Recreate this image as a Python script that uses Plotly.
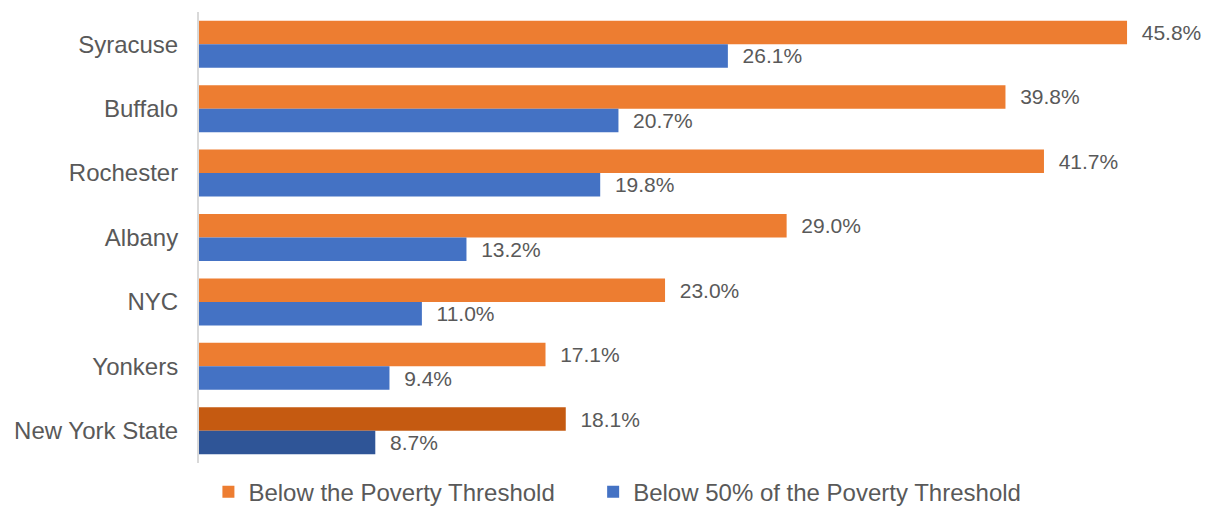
import plotly.graph_objects as go

categories = ["Syracuse", "Buffalo", "Rochester", "Albany", "NYC", "Yonkers", "New York State"]
below_threshold = [45.8, 39.8, 41.7, 29.0, 23.0, 17.1, 18.1]
below_50pct = [26.1, 20.7, 19.8, 13.2, 11.0, 9.4, 8.7]
series_names = ["Below the Poverty Threshold", "Below 50% of the Poverty Threshold"]

orange, orange_dark = "#ED7D31", "#C55A11"
blue, blue_dark = "#4472C4", "#2F5597"
orange_colors = [orange_dark if c == "New York State" else orange for c in categories]
blue_colors = [blue_dark if c == "New York State" else blue for c in categories]

FONT = "Liberation Sans, Arial, sans-serif"
pad = "\u00a0\u00a0"
fig = go.Figure()
fig.add_trace(go.Bar(
    y=categories, x=below_threshold, orientation="h",
    name=series_names[0] + "\u00a0" * 5,
    marker=dict(color=orange_colors, line=dict(width=0)),
    texttemplate=pad + "%{x:.1f}%", textposition="outside", cliponaxis=False,
    textfont=dict(size=21, color="#595959", family=FONT),
))
fig.add_trace(go.Bar(
    y=categories, x=below_50pct, orientation="h", name=series_names[1],
    marker=dict(color=blue_colors, line=dict(width=0)),
    texttemplate=pad + "%{x:.1f}%", textposition="outside", cliponaxis=False,
    textfont=dict(size=21, color="#595959", family=FONT),
))

# page body has an 8px margin, so the figure is sized to fit the 1210x506 window
fig.update_layout(
    width=1202, height=498,
    margin=dict(l=191, r=10, t=4, b=43, autoexpand=False),
    barmode="group", bargap=0.27, bargroupgap=0,
    plot_bgcolor="white", paper_bgcolor="white",
    font=dict(family=FONT, color="#595959"),
    showlegend=True,
    legend=dict(orientation="h", xref="container", yref="container",
                x=0.507, xanchor="center", y=0.028, yanchor="middle",
                font=dict(size=24, color="#595959"), itemsizing="constant",
                traceorder="normal", itemwidth=30),
    uniformtext=dict(minsize=21, mode="show"),
)
fig.update_xaxes(range=[0, 49.4], showgrid=False, showticklabels=False, zeroline=False,
                 showline=False, fixedrange=True, automargin=False)
fig.update_yaxes(autorange="reversed", showline=True, linecolor="#D9D9D9", linewidth=2,
                 showgrid=False, ticks="", tickfont=dict(size=24, color="#595959"),
                 ticklabelstandoff=14, automargin=False)

fig.write_html("out.html")
